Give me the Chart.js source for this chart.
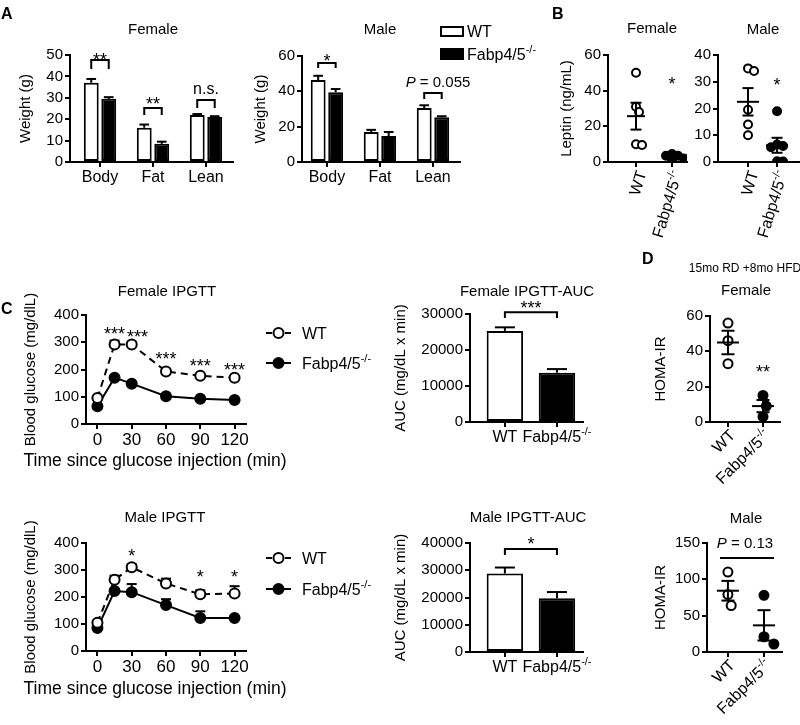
<!DOCTYPE html>
<html lang="en">
<head>
<meta charset="UTF-8">
<title>Fabp4/5 knockout: body weight, leptin, IPGTT and HOMA-IR</title>
<script src="https://cdn.jsdelivr.net/npm/chart.js"></script>
<style>
    body { margin: 0; background: #fff; }
    #fig { position: relative; width: 800px; height: 725px; }
    #fig canvas { position: absolute; left: 0; top: 0; }
</style>
</head>
<body>
<div id="fig">
    <canvas id="weightFemale" width="800" height="725"></canvas>
    <canvas id="weightMale" width="800" height="725"></canvas>
    <canvas id="leptinFemale" width="800" height="725"></canvas>
    <canvas id="leptinMale" width="800" height="725"></canvas>
    <canvas id="gttFemale" width="800" height="725"></canvas>
    <canvas id="aucFemaleChart" width="800" height="725"></canvas>
    <canvas id="gttMale" width="800" height="725"></canvas>
    <canvas id="aucMaleChart" width="800" height="725"></canvas>
    <canvas id="homaFemale" width="800" height="725"></canvas>
    <canvas id="homaMale" width="800" height="725"></canvas>
</div>
<script>
// ---- data ----
const bodyParts = ['Body', 'Fat', 'Lean'];

const weightFemaleWT = [37, 16, 22];
const weightFemaleWTsem = [1.8, 1.5, 0.4];
const weightFemaleKO = [29.5, 8.5, 21];
const weightFemaleKOsem = [0.8, 1.0, 0.4];
const weightFemaleTicks = [0, 10, 20, 30, 40, 50];

const weightMaleWT = [46.4, 17, 30.5];
const weightMaleWTsem = [2.4, 1.2, 1.6];
const weightMaleKO = [39.5, 14.7, 25.3];
const weightMaleKOsem = [1.8, 2.3, 0.6];
const weightMaleTicks = [0, 20, 40, 60];

const leptinFemaleWT = [50, 31, 28, 10, 9.5];
const leptinFemaleKO = [4.5, 3.5, 3.5, 2, 1.5];
const leptinFemaleTicks = [0, 20, 40, 60];
const leptinMaleWT = [35, 34, 19.5, 14, 10];
const leptinMaleKO = [19, 6.5, 6, 5.5, 0.3, 0.2];
const leptinMaleTicks = [0, 10, 20, 30, 40];

const minutes = [0, 15, 30, 60, 90, 120];
const minuteTicks = [0, 30, 60, 90, 120];
const glucoseTicks = [0, 100, 200, 300, 400];
const gttFemaleWT = [95, 292, 292, 193, 177, 170];
const gttFemaleWTsem = [6, 14, 10, 8, 6, 6];
const gttFemaleKO = [65, 170, 148, 102, 93, 88];
const gttFemaleKOsem = [3, 5, 5, 4, 4, 4];
const gttMaleWT = [105, 264, 310, 250, 210, 213];
const gttMaleWTsem = [8, 15, 12, 18, 15, 27];
const gttMaleKO = [85, 222, 218, 170, 122, 122];
const gttMaleKOsem = [5, 8, 30, 22, 25, 4];

const aucFemale = [25300, 13700];
const aucFemaleSem = [1000, 1000];
const aucFemaleTicks = [0, 10000, 20000, 30000];
const aucMale = [28800, 19700];
const aucMaleSem = [2200, 2300];
const aucMaleTicks = [0, 10000, 20000, 30000, 40000];

const homaFemaleWT = [56, 46, 33];
const homaFemaleKO = [15, 9, 3];
const homaFemaleTicks = [0, 20, 40, 60];
const homaMaleWT = [110, 79, 64];
const homaMaleKO = [78, 21, 11];
const homaMaleTicks = [0, 50, 100, 150];

// ---- drawing helpers ----
const FONT = "'Liberation Sans', Arial, Helvetica, sans-serif";
const W = 800, H = 725;
Chart.defaults.font.family = FONT;
Chart.defaults.color = '#000';

const mean = a => a.reduce((s, v) => s + v, 0) / a.length;
const sem = a => {
    const m = mean(a);
    return Math.sqrt(a.reduce((s, v) => s + (v - m) ** 2, 0) / (a.length - 1) / a.length);
};

function text(ctx, str, x, y, o = {}) {
    const size = o.size || 15;
    ctx.save();
    ctx.font = (o.style ? o.style + ' ' : '') + size + 'px ' + FONT;
    ctx.fillStyle = '#000';
    ctx.textAlign = o.align || 'center';
    ctx.textBaseline = 'alphabetic';
    ctx.translate(x, y);
    if (o.rot) ctx.rotate(o.rot * Math.PI / 180);
    ctx.fillText(str, 0, size * (o.lift || 0.36));
    ctx.restore();
}

// "Fabp4/5" with the -/- superscript
function koLabel(ctx, x, y, o = {}) {
    const size = o.size || 16, sup = Math.round(size * 0.7);
    ctx.save();
    ctx.translate(x, y);
    if (o.rot) ctx.rotate(o.rot * Math.PI / 180);
    ctx.fillStyle = '#000';
    ctx.textAlign = 'left';
    ctx.textBaseline = 'alphabetic';
    ctx.font = size + 'px ' + FONT;
    const w1 = ctx.measureText('Fabp4/5').width;
    ctx.font = sup + 'px ' + FONT;
    const w = w1 + ctx.measureText('-/-').width;
    const left = o.align === 'right' ? -w : o.align === 'left' ? 0 : -w / 2;
    const base = size * 0.36;
    ctx.font = size + 'px ' + FONT;
    ctx.fillText('Fabp4/5', left, base);
    ctx.font = sup + 'px ' + FONT;
    ctx.fillText('-/-', left + w1, base - size * 0.42);
    ctx.restore();
}

function pValue(ctx, rest, x, y, size) {
    ctx.save();
    ctx.fillStyle = '#000';
    ctx.textBaseline = 'alphabetic';
    ctx.textAlign = 'left';
    ctx.font = 'italic ' + size + 'px ' + FONT;
    const wp = ctx.measureText('P').width;
    ctx.font = size + 'px ' + FONT;
    const w = wp + ctx.measureText(rest).width;
    ctx.font = 'italic ' + size + 'px ' + FONT;
    ctx.fillText('P', x - w / 2, y + size * 0.36);
    ctx.font = size + 'px ' + FONT;
    ctx.fillText(rest, x - w / 2 + wp, y + size * 0.36);
    ctx.restore();
}

function stars(ctx, str, x, y) { text(ctx, str, x, y, { size: 18, lift: 0.58 }); }

function seg(ctx, pts, w = 2) {
    ctx.save();
    ctx.strokeStyle = '#000';
    ctx.lineWidth = w;
    ctx.beginPath();
    pts.forEach(([x, y], i) => i ? ctx.lineTo(x, y) : ctx.moveTo(x, y));
    ctx.stroke();
    ctx.restore();
}

// bracket between two pixel x positions, y given in data units
function bracket(c, xa, xb, level, legEnd) {
    const y = c.scales.y;
    seg(c.ctx, [[xa, y.getPixelForValue(legEnd)], [xa, y.getPixelForValue(level)],
                [xb, y.getPixelForValue(level)], [xb, y.getPixelForValue(legEnd)]]);
}

// upward error bars for bars / points
function upErrors(c, sems, capFn) {
    const y = c.scales.y;
    sems.forEach((arr, d) => {
        c.getDatasetMeta(d).data.forEach((el, i) => {
            const top = y.getPixelForValue(c.data.datasets[d].data[i].y + arr[i]);
            const cap = capFn(el);
            seg(c.ctx, [[el.x, el.y], [el.x, top]]);
            seg(c.ctx, [[el.x - cap / 2, top], [el.x + cap / 2, top]]);
        });
    });
}

function meanSem(c, g, vals, mw, cw) {
    const m = mean(vals), s = sem(vals);
    const x = c.scales.x.getPixelForValue(g), Y = v => c.scales.y.getPixelForValue(v);
    seg(c.ctx, [[x - mw / 2, Y(m)], [x + mw / 2, Y(m)]]);
    seg(c.ctx, [[x, Y(m - s)], [x, Y(m + s)]]);
    seg(c.ctx, [[x - cw / 2, Y(m + s)], [x + cw / 2, Y(m + s)]]);
    seg(c.ctx, [[x - cw / 2, Y(m - s)], [x + cw / 2, Y(m - s)]]);
}

// spread overlapping dots sideways (pixel offsets)
function swarm(vals, pxPerUnit, r, gap) {
    const placed = [];
    return vals.map(v => {
        const y = v * pxPerUnit;
        for (let k = 0; k < 40; k++) {
            const off = (k % 2 ? 1 : -1) * Math.ceil(k / 2) * r * 0.6;
            if (placed.every(p => Math.hypot(p.x - off, p.y - y) >= gap * r)) {
                placed.push({ x: off, y });
                return off;
            }
        }
        return 0;
    });
}

function yAxis(ticks, title) {
    return {
        type: 'linear', min: ticks[0], max: ticks[ticks.length - 1],
        afterBuildTicks: s => { s.ticks = ticks.map(value => ({ value })); },
        border: { color: '#000', width: 2 },
        grid: { drawOnChartArea: false, color: '#000', lineWidth: 2, tickLength: 5 },
        ticks: { font: { size: 15 }, color: '#000', padding: 2, autoSkip: false, callback: v => String(v) },
        title: { display: !!title, text: title || '', font: { size: 15 }, color: '#000', padding: 0 }
    };
}

function xAxis(min, max, ticks, label, size) {
    return {
        type: 'linear', min, max, offset: false,
        afterBuildTicks: s => { s.ticks = ticks.map(value => ({ value })); },
        border: { color: '#000', width: 2 },
        grid: { offset: false, drawOnChartArea: false, color: '#000', lineWidth: 2, tickLength: 5 },
        ticks: label
            ? { display: true, autoSkip: false, maxRotation: 0, font: { size: size || 16 }, color: '#000', padding: 1, callback: label }
            : { display: false }
    };
}

// box = [left, right, top, bottom] of the plot area in page pixels
function build(id, box, o) {
    const [x0, x1, y0, y1] = box;
    const yw = o.yTitleX != null ? x0 - o.yTitleX + 9 : 40;
    const xh = 40;
    o.scales.x.afterFit = s => { s.height = xh; };
    o.scales.y.afterFit = s => { s.width = yw; };
    return new Chart(document.getElementById(id), {
        type: o.type,
        data: { datasets: o.datasets },
        options: {
            responsive: false,
            animation: false,
            events: [],
            layout: { autoPadding: false, padding: { left: x0 - yw, right: W - x1, top: y0, bottom: H - y1 - xh } },
            plugins: { legend: { display: false }, tooltip: { enabled: false } },
            scales: o.scales
        },
        plugins: [{
            id: 'deco' + id,
            beforeDatasetsDraw: c => { if (o.under) o.under(c); },
            afterDatasetsDraw: c => { if (o.over) o.over(c); }
        }]
    });
}

const barSet = (vals, fill) => ({
    data: vals.map((y, i) => ({ x: i + 1, y })),
    backgroundColor: fill, borderColor: '#000', borderWidth: 2, borderSkipped: false,
    categoryPercentage: 0.66, barPercentage: 0.85
});

function dotSet(vals, g, box, xr, ymax, r, fill, gap) {
    const [x0, x1, y0, y1] = box;
    const off = swarm(vals, (y1 - y0) / ymax, r + 1, gap);
    const ux = (x1 - x0) / (xr[1] - xr[0]);
    return {
        data: vals.map((y, i) => ({ x: g + off[i] / ux, y })),
        pointRadius: r, pointBorderWidth: 2, pointBackgroundColor: fill, pointBorderColor: '#000'
    };
}

function groupLabels(c, rot, dx, dy, size) {
    const x = c.scales.x, yb = c.chartArea.bottom;
    if (rot) {
        text(c.ctx, 'WT', x.getPixelForValue(1) + dx, yb + dy, { size, align: 'right', rot });
        koLabel(c.ctx, x.getPixelForValue(2) + dx, yb + dy, { size, align: 'right', rot });
    } else {
        text(c.ctx, 'WT', x.getPixelForValue(1), yb + dy, { size });
        koLabel(c.ctx, x.getPixelForValue(2), yb + dy, { size });
    }
}

// ---- A: body composition ----
build('weightFemale', [70, 233, 55, 162], {
    type: 'bar', yTitleX: 26,
    datasets: [barSet(weightFemaleWT, '#fff'), barSet(weightFemaleKO, '#000')],
    scales: { x: xAxis(0.434, 3.51, [1, 2, 3], v => bodyParts[v - 1]), y: yAxis(weightFemaleTicks, 'Weight (g)') },
    over: c => {
        const ctx = c.ctx;
        upErrors(c, [weightFemaleWTsem, weightFemaleKOsem], el => el.width * 0.65);
        const wt = c.getDatasetMeta(0).data, ko = c.getDatasetMeta(1).data;
        bracket(c, wt[0].x, ko[0].x, 47.7, 43.5);
        stars(ctx, '**', (wt[0].x + ko[0].x) / 2, 56);
        bracket(c, wt[1].x, ko[1].x, 25.2, 22);
        stars(ctx, '**', (wt[1].x + ko[1].x) / 2, 100);
        bracket(c, wt[2].x, ko[2].x, 29, 25.2);
        text(ctx, 'n.s.', (wt[2].x + ko[2].x) / 2, 90, { size: 16, lift: 0.26 });
        text(ctx, 'A', 1, 13, { size: 16, style: 'bold', align: 'left' });
        text(ctx, 'Female', 153, 29);
    }
});

build('weightMale', [302, 460, 56, 162], {
    type: 'bar', yTitleX: 261,
    datasets: [barSet(weightMaleWT, '#fff'), barSet(weightMaleKO, '#000')],
    scales: { x: xAxis(0.53, 3.51, [1, 2, 3], v => bodyParts[v - 1]), y: yAxis(weightMaleTicks, 'Weight (g)') },
    over: c => {
        const ctx = c.ctx;
        upErrors(c, [weightMaleWTsem, weightMaleKOsem], el => el.width * 0.65);
        const wt = c.getDatasetMeta(0).data, ko = c.getDatasetMeta(1).data;
        bracket(c, wt[0].x, ko[0].x, 56, 53.2);
        stars(ctx, '*', (wt[0].x + ko[0].x) / 2, 57);
        bracket(c, wt[2].x, ko[2].x, 39, 35.7);
        pValue(ctx, ' = 0.055', 438, 82, 15);
        text(ctx, 'Male', 380, 29);
        // legend
        ctx.save();
        ctx.strokeStyle = '#000'; ctx.lineWidth = 2;
        ctx.strokeRect(441, 27, 22, 9);
        ctx.fillStyle = '#000';
        ctx.fillRect(440, 48, 24, 12);
        ctx.restore();
        text(ctx, 'WT', 467, 31, { size: 16, align: 'left' });
        koLabel(ctx, 467, 54, { size: 16, align: 'left' });
    }
});

// ---- B: leptin ----
const bFemBox = [608, 687, 55, 162], bFemX = [0.222, 2.417];
build('leptinFemale', bFemBox, {
    type: 'scatter', yTitleX: 567,
    datasets: [dotSet(leptinFemaleWT, 1, bFemBox, bFemX, 60, 4, '#fff', 1.2),
               dotSet(leptinFemaleKO, 2, bFemBox, bFemX, 60, 4, '#000', 0.9)],
    scales: { x: xAxis(bFemX[0], bFemX[1], [1, 2]), y: yAxis(leptinFemaleTicks, 'Leptin (ng/mL)') },
    over: c => {
        meanSem(c, 1, leptinFemaleWT, 18, 11);
        meanSem(c, 2, leptinFemaleKO, 18, 11);
        stars(c.ctx, '*', c.scales.x.getPixelForValue(2), 80);
        groupLabels(c, -73, 5, 9, 16);
        text(c.ctx, 'B', 552, 13, { size: 16, style: 'bold', align: 'left' });
        text(c.ctx, 'Female', 652, 28);
    }
});

const bMalBox = [718, 800, 55, 162], bMalX = [-0.034, 2.79];
build('leptinMale', bMalBox, {
    type: 'scatter',
    datasets: [dotSet(leptinMaleWT, 1, bMalBox, bMalX, 40, 4, '#fff', 1.1),
               dotSet(leptinMaleKO, 2, bMalBox, bMalX, 40, 4, '#000', 0.9)],
    scales: { x: xAxis(bMalX[0], bMalX[1], [1, 2]), y: yAxis(leptinMaleTicks) },
    over: c => {
        meanSem(c, 1, leptinMaleWT, 22, 11);
        meanSem(c, 2, leptinMaleKO, 22, 11);
        stars(c.ctx, '*', c.scales.x.getPixelForValue(2), 81);
        groupLabels(c, -73, 5, 9, 16);
        text(c.ctx, 'Male', 763, 29);
    }
});

// ---- C: glucose tolerance ----
function gttSets(wt, ko) {
    return [
        { data: minutes.map((x, i) => ({ x, y: wt[i] })), borderColor: '#000', borderWidth: 2, borderDash: [7, 5],
          pointRadius: 5, pointBorderWidth: 2, pointBackgroundColor: '#fff', pointBorderColor: '#000' },
        { data: minutes.map((x, i) => ({ x, y: ko[i] })), borderColor: '#000', borderWidth: 2,
          pointRadius: 5, pointBorderWidth: 2, pointBackgroundColor: '#000', pointBorderColor: '#000' }
    ];
}

function gttLegend(ctx, yWT, yKO) {
    ctx.save();
    ctx.strokeStyle = '#000'; ctx.lineWidth = 2;
    ctx.setLineDash([6, 13]);
    ctx.beginPath(); ctx.moveTo(266, yWT); ctx.lineTo(292, yWT); ctx.stroke();
    ctx.setLineDash([]);
    ctx.beginPath(); ctx.moveTo(266, yKO); ctx.lineTo(291, yKO); ctx.stroke();
    ctx.beginPath(); ctx.arc(278.5, yWT, 5, 0, 2 * Math.PI); ctx.fillStyle = '#fff'; ctx.fill(); ctx.stroke();
    ctx.beginPath(); ctx.arc(278.5, yKO, 5, 0, 2 * Math.PI); ctx.fillStyle = '#000'; ctx.fill(); ctx.stroke();
    ctx.restore();
    text(ctx, 'WT', 302, yWT, { size: 16, align: 'left' });
    koLabel(ctx, 302, yKO, { size: 16, align: 'left' });
}

const xTitle = 'Time since glucose injection (min)';

build('gttFemale', [86, 246, 315, 424], {
    type: 'line', yTitleX: 31,
    datasets: gttSets(gttFemaleWT, gttFemaleKO),
    scales: { x: xAxis(-10, 130, minuteTicks, v => String(v), 17), y: yAxis(glucoseTicks, 'Blood glucose (mg/dlL)') },
    under: c => upErrors(c, [gttFemaleWTsem, gttFemaleKOsem], () => 10),
    over: c => {
        const ctx = c.ctx, x = c.scales.x, y = c.scales.y;
        [[15, 345], [35, 334], [60, 253], [90, 228], [120, 216]].forEach(([m, v]) =>
            stars(ctx, '***', x.getPixelForValue(m), y.getPixelForValue(v)));
        text(ctx, 'C', 1, 308, { size: 16, style: 'bold', align: 'left' });
        text(ctx, 'Female IPGTT', 167, 291);
        text(ctx, xTitle, 155, 460, { size: 17.5 });
        gttLegend(ctx, 333, 363);
    }
});

build('gttMale', [86, 246, 543, 651], {
    type: 'line', yTitleX: 31,
    datasets: gttSets(gttMaleWT, gttMaleKO),
    scales: { x: xAxis(-10, 130, minuteTicks, v => String(v), 17), y: yAxis(glucoseTicks, 'Blood glucose (mg/dlL)') },
    under: c => upErrors(c, [gttMaleWTsem, gttMaleKOsem], () => 10),
    over: c => {
        const ctx = c.ctx, x = c.scales.x, y = c.scales.y;
        [[30, 367], [90, 289], [120, 289]].forEach(([m, v]) =>
            stars(ctx, '*', x.getPixelForValue(m), y.getPixelForValue(v)));
        text(ctx, 'Male IPGTT', 165, 517);
        text(ctx, xTitle, 155, 688, { size: 17.5 });
        gttLegend(ctx, 558, 589);
    }
});

function aucSet(vals) {
    return [{
        data: vals.map((y, i) => ({ x: i + 1, y })),
        backgroundColor: ['#fff', '#000'], borderColor: '#000', borderWidth: 2, borderSkipped: false,
        categoryPercentage: 1, barPercentage: 0.7
    }];
}

build('aucFemaleChart', [470, 583, 314, 422], {
    type: 'bar', yTitleX: 401,
    datasets: aucSet(aucFemale),
    scales: { x: xAxis(0.33, 2.5, [1, 2]), y: yAxis(aucFemaleTicks, 'AUC (mg/dL x min)') },
    over: c => {
        upErrors(c, [aucFemaleSem], el => el.width * 0.55);
        const x = c.scales.x;
        bracket(c, x.getPixelForValue(1), x.getPixelForValue(2), 30500, 28900);
        stars(c.ctx, '***', x.getPixelForValue(1.5), c.scales.y.getPixelForValue(32800));
        groupLabels(c, 0, 0, 14, 16);
        text(c.ctx, 'Female IPGTT-AUC', 527, 291);
    }
});

build('aucMaleChart', [470, 583, 543, 652], {
    type: 'bar', yTitleX: 401,
    datasets: aucSet(aucMale),
    scales: { x: xAxis(0.33, 2.5, [1, 2]), y: yAxis(aucMaleTicks, 'AUC (mg/dL x min)') },
    over: c => {
        upErrors(c, [aucMaleSem], el => el.width * 0.55);
        const x = c.scales.x;
        bracket(c, x.getPixelForValue(1), x.getPixelForValue(2), 37800, 35600);
        stars(c.ctx, '*', x.getPixelForValue(1.5), c.scales.y.getPixelForValue(41100));
        groupLabels(c, 0, 0, 14, 16);
        text(c.ctx, 'Male IPGTT-AUC', 528, 517);
    }
});

// ---- D: HOMA-IR ----
const dFemBox = [710, 780, 316, 422], dFemX = [0.486, 2.486];
build('homaFemale', dFemBox, {
    type: 'scatter', yTitleX: 661,
    datasets: [dotSet(homaFemaleWT, 1, dFemBox, dFemX, 60, 4.5, '#fff', 2),
               dotSet(homaFemaleKO, 2, dFemBox, dFemX, 60, 4.5, '#000', 2)],
    scales: { x: xAxis(dFemX[0], dFemX[1], [1, 2]), y: yAxis(homaFemaleTicks, 'HOMA-IR') },
    over: c => {
        meanSem(c, 1, homaFemaleWT, 22, 13);
        meanSem(c, 2, homaFemaleKO, 22, 13);
        stars(c.ctx, '**', c.scales.x.getPixelForValue(2), 368);
        groupLabels(c, -45, 4, 10, 16);
        text(c.ctx, 'D', 642, 258, { size: 16, style: 'bold', align: 'left' });
        text(c.ctx, '15mo RD +8mo HFD', 745, 268, { size: 12 });
        text(c.ctx, 'Female', 746, 290);
    }
});

const dMalBox = [707, 782, 543, 652], dMalX = [0.42, 2.5];
build('homaMale', dMalBox, {
    type: 'scatter', yTitleX: 661,
    datasets: [dotSet(homaMaleWT, 1, dMalBox, dMalX, 150, 4.5, '#fff', 2),
               dotSet(homaMaleKO, 2, dMalBox, dMalX, 150, 4.5, '#000', 2)],
    scales: { x: xAxis(dMalX[0], dMalX[1], [1, 2]), y: yAxis(homaMaleTicks, 'HOMA-IR') },
    over: c => {
        meanSem(c, 1, homaMaleWT, 22, 13);
        meanSem(c, 2, homaMaleKO, 22, 13);
        const x = c.scales.x, y = c.scales.y;
        seg(c.ctx, [[x.getPixelForValue(0.78), y.getPixelForValue(129.4)], [x.getPixelForValue(2.28), y.getPixelForValue(129.4)]]);
        pValue(c.ctx, ' = 0.13', 745, 543, 15);
        groupLabels(c, -45, 4, 10, 16);
        text(c.ctx, 'Male', 746, 518);
    }
});
</script>
</body>
</html>
